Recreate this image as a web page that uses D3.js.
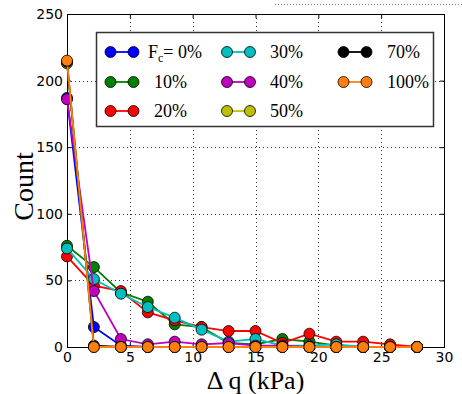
<!DOCTYPE html>
<html>
<head>
<meta charset="utf-8">
<script src="https://cdn.jsdelivr.net/npm/d3@7"></script>
<style>
  html, body { margin: 0; padding: 0; background: #fff; }
  svg { display: block; }
</style>
</head>
<body>
<svg id="chart" width="462" height="394"></svg>
<script>
// Bin centres of the load-increment histogram (kPa)
const binCenters = [0, 2.14, 4.29, 6.43, 8.57, 10.71, 12.86, 15.0, 17.14, 19.29, 21.43, 23.57, 25.71, 27.86];

// Counts per bin for each fines content
const fc0   = [187, 15, 1, 0, 0, 0, 0, 0, 0, 0, 0, 0, 0, 0];
const fc10  = [76, 60, 41, 34, 17, 15, 3, 2, 6, 4, 1, 0, 0, 0];
const fc20  = [68, 46, 42, 26, 20, 15, 12, 12, 3, 10, 4, 4, 2, 0];
const fc30  = [74, 51, 40, 30, 22, 13, 4, 6, 1, 1, 2, 0, 0, 0];
const fc40  = [186, 42, 6, 2, 4, 2, 3, 1, 1, 0, 0, 0, 0, 0];
const fc50  = [213, 0, 0, 0, 0, 0, 0, 0, 0, 0, 0, 0, 0, 0];
const fc70  = [214, 1, 0, 0, 0, 0, 0, 0, 0, 0, 0, 0, 0, 0];
const fc100 = [215, 0, 0, 0, 0, 0, 0, 0, 0, 0, 0, 0, 0, 0];

const seriesLabels = ["0%", "10%", "20%", "30%", "40%", "50%", "70%", "100%"];
const seriesColors = ["#0000ff", "#008000", "#ff0000", "#00bfbf", "#bf00bf", "#bfbf00", "#000000", "#ff7f0e"];
const seriesValues = [fc0, fc10, fc20, fc30, fc40, fc50, fc70, fc100];

const xTicks = [0, 5, 10, 15, 20, 25, 30];
const yTicks = [0, 50, 100, 150, 200, 250];

const svg = d3.select("#chart");
const plot = { left: 67, right: 444, top: 14, bottom: 347 };

const x = d3.scaleLinear().domain([0, 30]).range([plot.left, plot.right]);
const y = d3.scaleLinear().domain([0, 250]).range([plot.bottom, plot.top]);

// stray dotted rule above the axes
svg.append("line")
  .attr("x1", 275).attr("x2", 462).attr("y1", 4.5).attr("y2", 4.5)
  .attr("stroke", "#777").attr("stroke-width", 1).attr("stroke-dasharray", "1,2");

// dotted grid
const grid = svg.append("g");
grid.selectAll("line.gx").data(xTicks).join("line")
  .attr("x1", d => Math.round(x(d)) + 0.5).attr("x2", d => Math.round(x(d)) + 0.5)
  .attr("y1", plot.top).attr("y2", plot.bottom)
  .attr("stroke", "#333").attr("stroke-width", 1).attr("stroke-dasharray", "1,3");
grid.selectAll("line.gy").data(yTicks).join("line")
  .attr("y1", d => Math.round(y(d)) + 0.5).attr("y2", d => Math.round(y(d)) + 0.5)
  .attr("x1", plot.left).attr("x2", plot.right)
  .attr("stroke", "#333").attr("stroke-width", 1).attr("stroke-dasharray", "1,3");

// frame
svg.append("rect")
  .attr("x", plot.left + 0.5).attr("y", plot.top + 0.5)
  .attr("width", plot.right - plot.left).attr("height", plot.bottom - plot.top)
  .attr("fill", "none").attr("stroke", "#000").attr("stroke-width", 1);

// axes with inward ticks
const axisFont = "'DejaVu Sans', sans-serif";
const xAxis = svg.append("g").attr("transform", `translate(0,${plot.bottom})`)
  .call(d3.axisBottom(x).tickValues(xTicks).tickSizeInner(-4).tickSizeOuter(0).tickPadding(5));
const xAxisTop = svg.append("g").attr("transform", `translate(0,${plot.top})`)
  .call(d3.axisTop(x).tickValues(xTicks).tickSizeInner(-4).tickSizeOuter(0).tickFormat(""));
const yAxis = svg.append("g").attr("transform", `translate(${plot.left},0)`)
  .call(d3.axisLeft(y).tickValues(yTicks).tickSizeInner(-4).tickSizeOuter(0).tickPadding(4));
const yAxisRight = svg.append("g").attr("transform", `translate(${plot.right},0)`)
  .call(d3.axisRight(y).tickValues(yTicks).tickSizeInner(-4).tickSizeOuter(0).tickFormat(""));
[xAxis, xAxisTop, yAxis, yAxisRight].forEach(g => {
  g.select(".domain").remove();
  g.selectAll("text").attr("font-family", axisFont).attr("font-size", 14).attr("fill", "#000");
  g.selectAll("line").attr("stroke", "#000");
});

// series: line then markers, in order
const line = d3.line().x((d, i) => x(binCenters[i])).y(d => y(d));
seriesValues.forEach((vals, s) => {
  const g = svg.append("g");
  g.append("path").datum(vals)
    .attr("d", line).attr("fill", "none")
    .attr("stroke", seriesColors[s]).attr("stroke-width", 1.8);
  g.selectAll("circle").data(vals).join("circle")
    .attr("cx", (d, i) => x(binCenters[i])).attr("cy", d => y(d))
    .attr("r", 5.5).attr("fill", seriesColors[s])
    .attr("stroke", "#000").attr("stroke-width", 0.8);
});

// legend
const serif = "'Liberation Serif', 'Times New Roman', serif";
const legend = svg.append("g");
legend.append("rect")
  .attr("x", 96.5).attr("y", 32.5).attr("width", 337).attr("height", 94)
  .attr("fill", "#fff").attr("stroke", "#333").attr("stroke-width", 1.5);
const colX = [110.5, 227, 343.5];
const rowY = [52, 82, 111];
const textX = [154, 270, 387];
seriesValues.forEach((vals, s) => {
  const c = Math.floor(s / 3), r = s % 3;
  const gy = rowY[r], gx = colX[c];
  legend.append("line")
    .attr("x1", gx).attr("x2", gx + 23).attr("y1", gy).attr("y2", gy)
    .attr("stroke", seriesColors[s]).attr("stroke-width", 1.8);
  [gx, gx + 23].forEach(cx => legend.append("circle")
    .attr("cx", cx).attr("cy", gy).attr("r", 5.5)
    .attr("fill", seriesColors[s]).attr("stroke", "#000").attr("stroke-width", 0.8));
  const t = legend.append("text")
    .attr("y", gy + 6).attr("font-family", serif).attr("font-size", 18).attr("fill", "#000");
  if (s === 0) {
    t.attr("x", 148);
    t.append("tspan").text("F");
    t.append("tspan").attr("font-size", 12).attr("dy", 4).text("c");
    t.append("tspan").attr("dy", -4).text("= " + seriesLabels[s]);
  } else {
    t.attr("x", textX[c]).text(seriesLabels[s]);
  }
});

// axis titles
svg.append("text")
  .attr("x", (plot.left + plot.right) / 2).attr("y", 389)
  .attr("text-anchor", "middle").attr("font-family", serif).attr("font-size", 26)
  .text("Δ q (kPa)");
svg.append("text")
  .attr("transform", `translate(33,${(plot.top + plot.bottom) / 2 + 6}) rotate(-90)`)
  .attr("text-anchor", "middle").attr("font-family", serif).attr("font-size", 28)
  .text("Count");
</script>
</body>
</html>
